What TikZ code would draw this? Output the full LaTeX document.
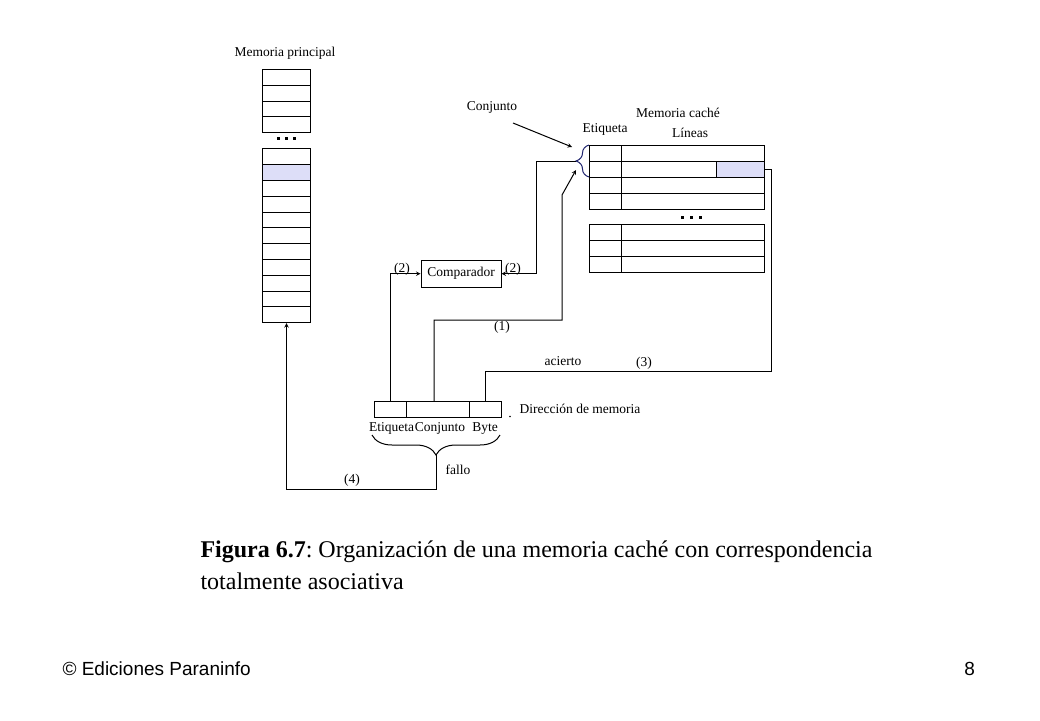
\documentclass[tikz,border=0pt]{standalone}
\usepackage{fontspec}
\setmainfont{Liberation Serif}
\newfontfamily\footfont{Liberation Sans}
\usetikzlibrary{arrows, decorations.pathreplacing}
\frenchspacing
\definecolor{cellblue}{RGB}{221,222,248}
\definecolor{bracenavy}{RGB}{30,35,110}
\tikzstyle{memcell} = [rectangle, draw=black, minimum width=48pt, minimum height=15.8pt, inner sep=0pt, anchor=north west]
\tikzstyle{tagcell} = [rectangle, draw=black, minimum width=32pt, minimum height=16pt, inner sep=0pt, anchor=north west]
\tikzstyle{linecell} = [rectangle, draw=black, minimum width=143pt, minimum height=16pt, inner sep=0pt, anchor=north west]
\tikzstyle{addrcell} = [rectangle, draw=black, minimum height=16pt, inner sep=0pt, anchor=north west]
\tikzstyle{compbox} = [rectangle, draw=black, minimum width=80pt, minimum height=27pt, font=\fontsize{13.5}{15}\selectfont]
\tikzstyle{txt} = [inner sep=0pt, font=\fontsize{13.5}{15}\selectfont]
\tikzstyle{cachebrace} = [draw=bracenavy, decorate, decoration={brace, amplitude=13pt}]
\tikzstyle{addrbrace} = [draw=black, decorate, decoration={brace, amplitude=20pt}]
\tikzstyle{arrow} = [->, >=stealth]

\begin{document}
\begin{tikzpicture}[x=1pt, y=-1pt, line width=1pt]
	\useasboundingbox [fill=white] (0,0) rectangle (1040,720);

	\node (mainlabel) [txt] at (285,53) {Memoria principal};
	\foreach \i in {0,...,3}
		\node (mtop\i) [memcell] at (262,69+15.8*\i) {};
	\foreach \x in {278.5,286.5,294.5}
		\fill (\x-1.5,137.2) rectangle ++(3,3);
	\foreach \i in {0,...,10}
		\node (mbot\i) [memcell] at (262,148.3+15.8*\i) {};
	\node (mshade) [memcell, fill=cellblue] at (262,164.1) {};

	\node (cachelabel) [txt] at (678,112.5) {Memoria caché};
	\node (tagslabel) [txt] at (605,129) {Etiqueta};
	\node (lineslabel) [txt] at (690,132.5) {Líneas};
	\foreach \i in {0,...,3} {
		\node (ctag\i) [tagcell] at (589,145+16*\i) {};
		\node (cline\i) [linecell] at (621,145+16*\i) {};
	}
	\node (cbyte) [memcell, minimum height=16pt, fill=cellblue] at (716,161) {};
	\foreach \x in {682.5,691.5,700.5}
		\fill (\x-1.5,215.5) rectangle ++(3,3);
	\foreach \i in {0,...,2} {
		\node (ltag\i) [tagcell] at (589,224+16*\i) {};
		\node (lline\i) [linecell] at (621,224+16*\i) {};
	}

	\coordinate (conjtip) at (576,161);
	\draw [cachebrace] (589,177) -- (589,145);
	\node (conjlabel) [txt] at (492,107) {Conjunto};
	\coordinate (conjstart) at (513,123);
	\coordinate (conjend) at (572,147);
	\draw [arrow] (conjstart) -- (conjend);

	\node (comparador) [compbox] at (461,273.7) {Comparador};

	\node (addrtag) [addrcell, minimum width=32pt] at (374,401) {};
	\node (addrset) [addrcell, minimum width=63pt] at (406,401) {};
	\node (addrbyte) [addrcell, minimum width=32pt] at (469,401) {};
	\node (tagfield) [txt, anchor=base] at (391.5,431) {Etiqueta};
	\node (setfield) [txt, anchor=base] at (440,431) {Conjunto};
	\node (bytefield) [txt, anchor=base] at (485,431) {Byte};
	\fill (510,416.5) circle (0.8);
	\node (addrlabel) [txt] at (580,409) {Dirección de memoria};

	\coordinate (fallotip) at (436,455);
	\draw [addrbrace] (500,435) -- (372,435);
	\node (fallolabel) [txt] at (458,470) {fallo};

	\draw [arrow] (addrtag.north) |- (comparador.west);
	\node (steptwoa) [txt] at (402,269) {(2)};
	\draw [arrow] (conjtip) -- ++(-40,0) |- (comparador.east);
	\node (steptwob) [txt] at (513,269) {(2)};

	\coordinate (setturn) at (562,195);
	\coordinate (setend) at (576,170);
	\draw [arrow] ([xshift=-4pt]addrset.north) -- ++(0,-81) -| (setturn) -- (setend);
	\node (stepone) [txt] at (502,327.5) {(1)};

	\coordinate (hitrow) at (0,371);
	\draw (cbyte.east) -- ++(6,0) |- (addrbyte.north |- hitrow) -- (addrbyte.north);
	\node (hitlabel) [txt] at (563,361) {acierto};
	\node (stepthree) [txt] at (644,363) {(3)};

	\draw [arrow] (fallotip) -- ++(0,34) -| (mbot10.south);
	\node (stepfour) [txt] at (352,480) {(4)};

	\node (caption) [anchor=north west, align=left, inner sep=0pt, font=\fontsize{24}{32}\selectfont] at (200,540.5) {\textbf{Figura 6.7}: Organización de una memoria caché con correspondencia\\totalmente asociativa};

	\node (publisher) [anchor=base west, inner sep=0pt, font=\footfont\fontsize{19}{21}\selectfont] at (62,675.5) {© Ediciones Paraninfo};
	\node (pagenum) [anchor=base east, inner sep=0pt, font=\footfont\fontsize{19}{21}\selectfont] at (975.5,675.5) {8};
\end{tikzpicture}
\end{document}
